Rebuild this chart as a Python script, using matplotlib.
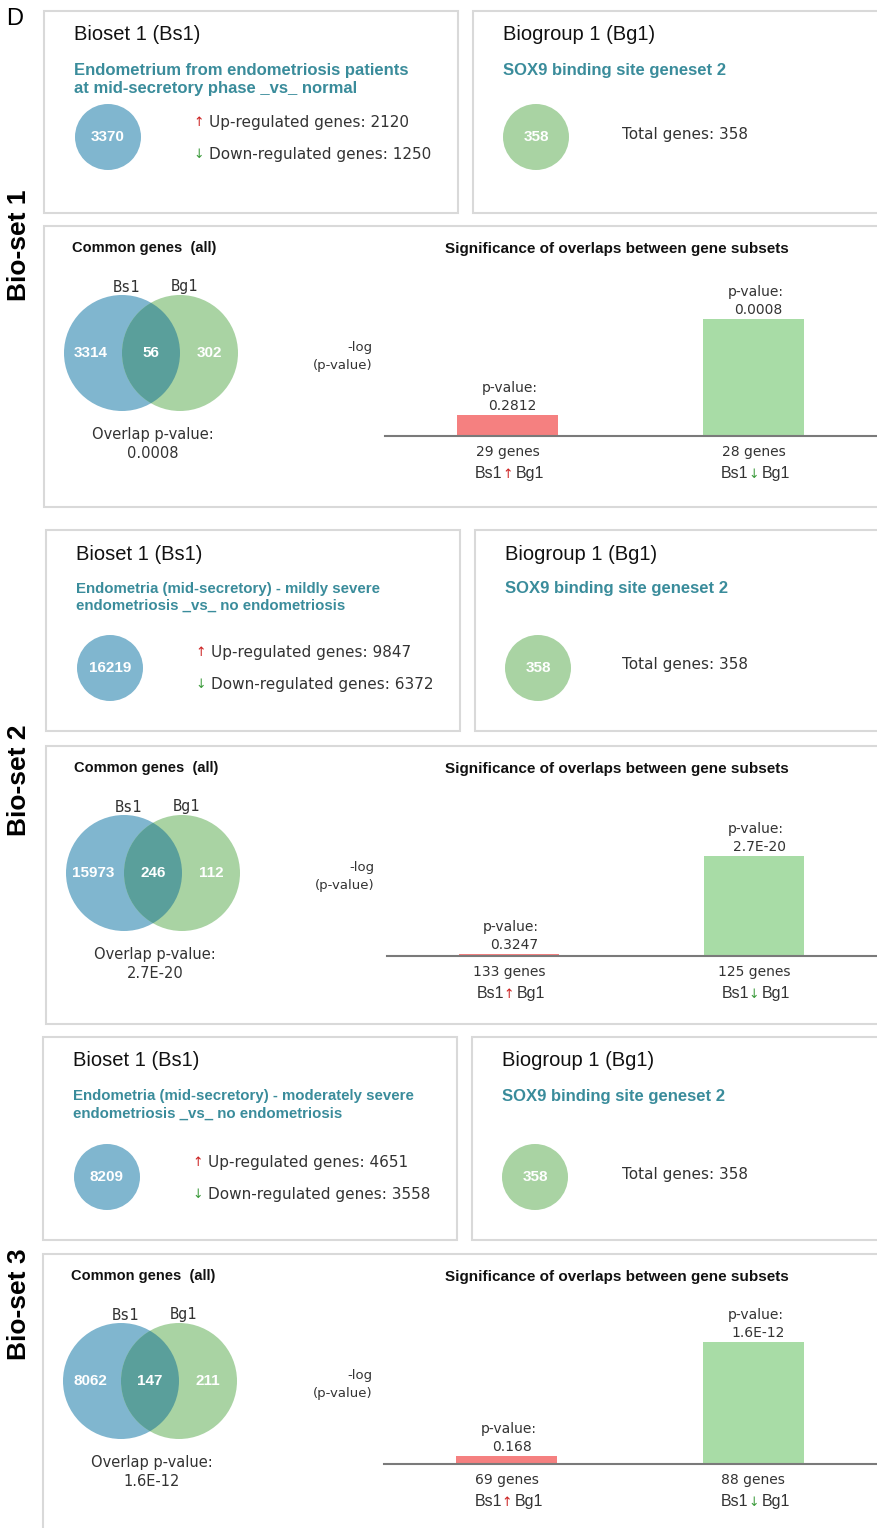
import numpy as np
import matplotlib
matplotlib.use('Agg')
import matplotlib.pyplot as plt
from matplotlib.patches import Rectangle, Circle

# Данные по трём био-сетам
bioset_desc = [
    ["Endometrium from endometriosis patients", "at mid-secretory phase _vs_ normal"],
    ["Endometria (mid-secretory) - mildly severe", "endometriosis _vs_ no endometriosis"],
    ["Endometria (mid-secretory) - moderately severe", "endometriosis _vs_ no endometriosis"],
]
bioset_total = [3370, 16219, 8209]
up_genes = [2120, 9847, 4651]
down_genes = [1250, 6372, 3558]
biogroup_name = "SOX9 binding site geneset 2"
biogroup_total = 358
venn_only_bs = [3314, 15973, 8062]
venn_common = [56, 246, 147]
venn_only_bg = [302, 112, 211]
overlap_p = [0.0008, 2.7e-20, 1.6e-12]
up_overlap_p = [0.2812, 0.3247, 0.168]
down_overlap_p = [0.0008, 2.7e-20, 1.6e-12]
up_overlap_n = [29, 133, 69]
down_overlap_n = [28, 125, 88]
side_labels = ["Bio-set 1", "Bio-set 2", "Bio-set 3"]

# Раскладка (пиксели)
W, H = 877, 1528
top_y = [11, 530, 1037]
top_h = [202, 201, 203]
bot_y = [226, 746, 1254]
bot_h = [281, 278, 290]
dx = [0, 2, -1]
small_circ_dy = [126, 138, 140]
desc_size = [12, 10.8, 10.8]
desc_dy = [[59, 78], [59, 76], [59, 77]]
green_px = [117, 100, 122]
side_y = [245, 780, 1304]

ARIAL = 'Liberation Sans'
DJ = 'DejaVu Sans'
MONO = 'DejaVu Sans Mono'
TEAL = '#3a8c9b'
BLUE = '#80b6cf'
GREEN = '#a9d3a3'
OVER = '#5a9f9b'
BAR_RED = '#f58080'
BAR_GREEN = '#a8dca6'
EDGE = '#d9d9d9'
TXT = '#333333'


def fmt_p(p):
    return f"{p:g}".upper()


fig = plt.figure(figsize=(W / 100, H / 100), dpi=100)
bg = fig.add_axes([0, 0, 1, 1])
bg.set_xlim(0, W)
bg.set_ylim(H, 0)
bg.axis('off')

bg.text(15, 19, "D", fontsize=17, family=ARIAL, va='center', ha='center')

for i in range(3):
    x0 = 44 + dx[i]
    y0 = top_y[i]
    xr = 473 + dx[i]
    # верхние блоки
    bg.add_patch(Rectangle((x0, y0), 414, top_h[i], fc='white', ec=EDGE, lw=1.5))
    bg.add_patch(Rectangle((xr, y0), 420, top_h[i], fc='white', ec=EDGE, lw=1.5))

    bg.text(x0 + 30, y0 + 24, "Bioset 1 (Bs1)", fontsize=14.5, family=ARIAL, va='center', color='#111111')
    for k, line in enumerate(bioset_desc[i]):
        bg.text(x0 + 30, y0 + desc_dy[i][k], line, fontsize=desc_size[i], family=ARIAL,
                fontweight='bold', color=TEAL, va='center')
    cy = y0 + small_circ_dy[i]
    bg.add_patch(Circle((x0 + 64, cy), 33, fc=BLUE, ec='none'))
    bg.text(x0 + 64, cy, str(bioset_total[i]), fontsize=11, family=ARIAL, fontweight='bold',
            color='white', ha='center', va='center')
    bg.text(x0 + 155, cy - 15, "↑", fontsize=9, family=DJ, color='#cc2020', ha='center', va='center')
    bg.text(x0 + 165, cy - 15, f"Up-regulated genes: {up_genes[i]}", fontsize=11, family=DJ,
            color=TXT, va='center')
    bg.text(x0 + 155, cy + 17, "↓", fontsize=9, family=DJ, color='#3a9a3a', ha='center', va='center')
    bg.text(x0 + 165, cy + 17, f"Down-regulated genes: {down_genes[i]}", fontsize=11, family=DJ,
            color=TXT, va='center')

    bg.text(xr + 30, y0 + 24, "Biogroup 1 (Bg1)", fontsize=14.5, family=ARIAL, va='center', color='#111111')
    bg.text(xr + 30, y0 + 59, biogroup_name, fontsize=12, family=ARIAL, fontweight='bold',
            color=TEAL, va='center')
    bg.add_patch(Circle((xr + 63, cy), 33, fc=GREEN, ec='none'))
    bg.text(xr + 63, cy, str(biogroup_total), fontsize=11, family=ARIAL, fontweight='bold',
            color='white', ha='center', va='center')
    bg.text(622, cy - 3, f"Total genes: {biogroup_total}", fontsize=11, family=DJ, color=TXT, va='center')

    # нижний блок: диаграмма Венна
    yb = bot_y[i]
    bg.add_patch(Rectangle((x0, yb), 840, bot_h[i], fc='white', ec=EDGE, lw=1.5))
    bg.text(x0 + 28, yb + 22, "Common genes  (all)", fontsize=10.5, family=ARIAL, fontweight='bold',
            va='center', color='#111111')
    bx, gx, vy = x0 + 78, x0 + 136, yb + 127
    bg.text(bx + 4, yb + 61, "Bs1", fontsize=11, family=MONO, color=TXT, ha='center', va='center')
    bg.text(gx + 4, yb + 61, "Bg1", fontsize=11, family=MONO, color=TXT, ha='center', va='center')
    c_b = Circle((bx, vy), 58, fc=BLUE, ec='none')
    c_g = Circle((gx, vy), 58, fc=GREEN, ec='none')
    bg.add_patch(c_b)
    bg.add_patch(c_g)
    c_i = Circle((bx, vy), 58, fc=OVER, ec='none')
    bg.add_patch(c_i)
    c_i.set_clip_path(c_g)
    for xx, val in zip([bx - 31, (bx + gx) / 2, gx + 29],
                       [venn_only_bs[i], venn_common[i], venn_only_bg[i]]):
        bg.text(xx, vy, str(val), fontsize=11, family=ARIAL, fontweight='bold', color='white',
                ha='center', va='center')
    bg.text((bx + gx) / 2 + 2, yb + 209, "Overlap p-value:", fontsize=10.5, family=DJ, color=TXT,
            ha='center', va='center')
    bg.text((bx + gx) / 2 + 2, yb + 228, fmt_p(overlap_p[i]), fontsize=10.5, family=DJ, color=TXT,
            ha='center', va='center')
    bg.text(373 + dx[i], yb + 121, "-log", fontsize=9.5, family=DJ, color=TXT, ha='right', va='center')
    bg.text(373 + dx[i], yb + 139, "(p-value)", fontsize=9.5, family=DJ, color=TXT, ha='right', va='center')
    bg.text(617, yb + 23, "Significance of overlaps between gene subsets", fontsize=11, family=ARIAL,
            fontweight='bold', ha='center', va='center', color='#111111')

    # столбцы значимости
    base = yb + 210
    ax_h = 150
    left = 385 + dx[i]
    ax = fig.add_axes([left / W, (H - base) / H, (W - left) / W, ax_h / H])
    ax.patch.set_alpha(0)
    ax.axis('off')
    heights = -np.log10([up_overlap_p[i], down_overlap_p[i]])
    ax.set_xlim(-0.498, 1.502)
    ax.set_ylim(0, heights[1] * ax_h / green_px[i])
    ax.bar([0, 1], heights, width=0.41, color=[BAR_RED, BAR_GREEN], zorder=1)
    ax.axhline(0, color='#7a7a7a', lw=1.5, clip_on=False, zorder=2)
    pvals = [up_overlap_p[i], down_overlap_p[i]]
    counts = [up_overlap_n[i], down_overlap_n[i]]
    arrows = [("↑", '#cc2020'), ("↓", '#3a9a3a')]
    for j in range(2):
        ax.annotate("p-value:", (j, heights[j]), xytext=(2, 27), textcoords='offset pixels',
                    ha='center', va='center', fontsize=10, family=DJ, color=TXT)
        ax.annotate(fmt_p(pvals[j]), (j, heights[j]), xytext=(5, 9), textcoords='offset pixels',
                    ha='center', va='center', fontsize=10, family=DJ, color=TXT)
        ax.annotate(f"{counts[j]} genes", (j, 0), xytext=(0, -16), textcoords='offset pixels',
                    ha='center', va='center', fontsize=10, family=DJ, color=TXT)
        ax.annotate("Bs1", (j, 0), xytext=(-5, -42), textcoords='offset pixels',
                    ha='right', va='baseline', fontsize=11.5, family=ARIAL, color=TXT)
        ax.annotate(arrows[j][0], (j, 0), xytext=(0, -42), textcoords='offset pixels',
                    ha='center', va='baseline', fontsize=9, family=DJ, color=arrows[j][1])
        ax.annotate("Bg1", (j, 0), xytext=(8, -42), textcoords='offset pixels',
                    ha='left', va='baseline', fontsize=11.5, family=ARIAL, color=TXT)

    bg.text(19, side_y[i], side_labels[i], rotation=90, fontsize=19, family=ARIAL, fontweight='bold',
            ha='center', va='center', color='black')

plt.savefig('out.png', dpi=100, facecolor='white')
